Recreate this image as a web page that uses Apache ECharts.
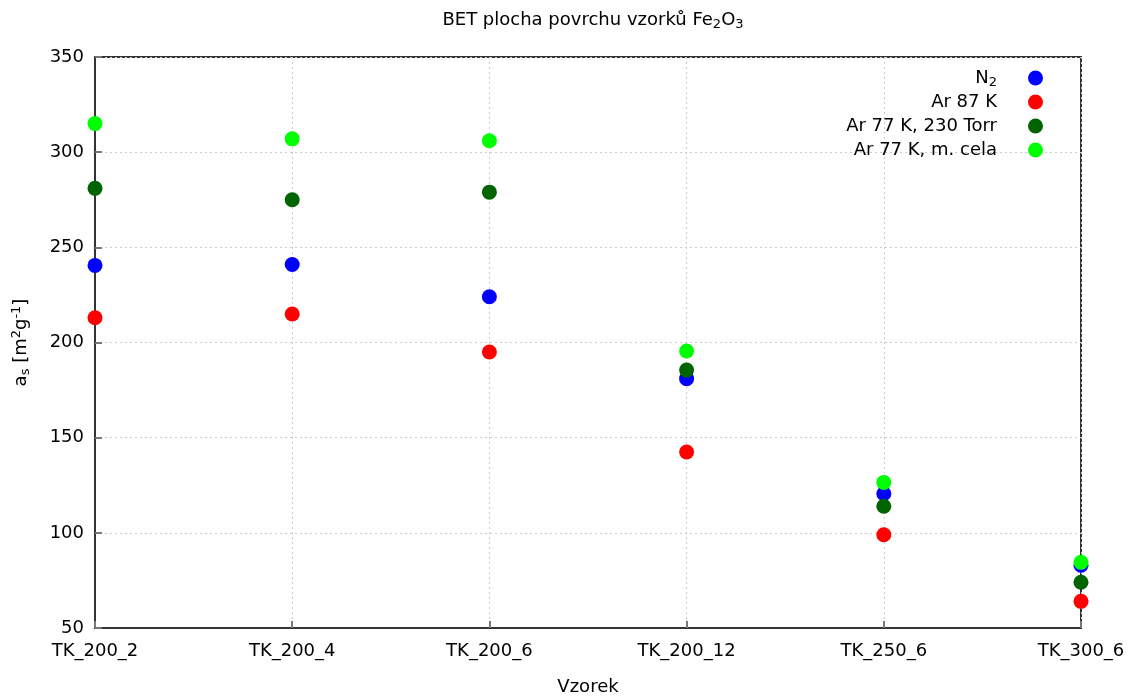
<!DOCTYPE html>
<html>
<head>
<meta charset="utf-8">
<script src="https://cdn.jsdelivr.net/npm/echarts@6/dist/echarts.min.js"></script>
<style>html,body{margin:0;padding:0;background:#fff;overflow:hidden;}#c{width:1128px;height:697px;}</style>
</head>
<body>
<div id="c"></div>
<script>
const categories = ['TK_200_2', 'TK_200_4', 'TK_200_6', 'TK_200_12', 'TK_250_6', 'TK_300_6'];
const n2 = [240.5, 241, 224, 181, 120.5, 83];
const ar87 = [213, 215, 195, 142.5, 99, 64];
const ar77Torr = [281, 275, 279, 185.5, 114, 74];
const ar77Cela = [315, 307, 306, 195.5, 126.5, 84.5];
const yTicks = [50, 100, 150, 200, 250, 300, 350];

const FONT = 'DejaVu Sans';
const FS = 18;
const seriesDefs = [
  {name: 'N2', data: n2, color: '#0000ff', label: '{t|N}{s|2}'},
  {name: 'Ar 87 K', data: ar87, color: '#ff0000', label: '{t|Ar 87 K}'},
  {name: 'Ar 77 K, 230 Torr', data: ar77Torr, color: '#006400', label: '{t|Ar 77 K, 230 Torr}'},
  {name: 'Ar 77 K, m. cela', data: ar77Cela, color: '#00ff00', label: '{t|Ar 77 K, m. cela}'}
];
const rich = {
  t: {fontFamily: FONT, fontSize: FS, fontWeight: 'normal', color: '#000', lineHeight: 22},
  s: {fontFamily: FONT, fontSize: 13, fontWeight: 'normal', color: '#000', lineHeight: 22, padding: [9, 0, 0, 0]},
  p: {fontFamily: FONT, fontSize: 13, fontWeight: 'normal', color: '#000', lineHeight: 22, padding: [0, 0, 9, 0]}
};
const legendTops = [67, 93, 117, 141];

const chart = echarts.init(document.getElementById('c'), null, {renderer: 'canvas'});
const legends = seriesDefs.map((d, i) => ({
  data: [d.name],
  right: 85,
  top: legendTops[i],
  padding: 0,
  orient: 'vertical',
  align: 'right',
  icon: 'circle',
  itemWidth: 67,
  itemHeight: 15,
  selectedMode: false,
  formatter: () => d.label,
  textStyle: {rich: rich, fontFamily: FONT, fontSize: FS, color: '#000'}
}));

chart.setOption({
  animation: false,
  backgroundColor: '#fff',
  title: {
    text: '{t|BET plocha povrchu vzorků Fe}{s|2}{t|O}{s|3}',
    left: 588, textAlign: 'center', top: 4,
    textStyle: {rich: rich, fontWeight: 'normal'}
  },
  legend: legends,
  grid: {left: 95, width: 986, top: 57, height: 571, outerBoundsMode: 'none', containLabel: false,
    show: true, borderColor: '#333', borderWidth: 2, backgroundColor: 'transparent'},
  xAxis: {
    type: 'category',
    data: categories,
    boundaryGap: false,
    name: 'Vzorek',
    nameLocation: 'middle',
    nameGap: 50,
    nameTextStyle: {fontFamily: FONT, fontSize: FS, color: '#000'},
    axisLine: {lineStyle: {color: '#333', width: 2}},
    axisTick: {inside: true, length: 7, alignWithLabel: true, lineStyle: {color: '#777', width: 2}},
    axisLabel: {interval: 0, margin: 14, fontFamily: FONT, fontSize: FS, color: '#000'},
    splitLine: {show: true, lineStyle: {color: '#cccccc', type: [2, 3], width: 1}}
  },
  yAxis: {
    type: 'value',
    min: 50, max: 350, interval: 50,
    name: '{t|a}{s|s}{t| [m}{p|2}{t|g}{p|-1}{t|]}',
    nameLocation: 'middle',
    nameGap: 63,
    nameTextStyle: {rich: rich},
    axisLine: {show: true, lineStyle: {color: '#333', width: 2}},
    axisTick: {show: true, inside: true, length: 7, lineStyle: {color: '#777', width: 2}},
    axisLabel: {margin: 11, fontFamily: FONT, fontSize: FS, color: '#000',
      formatter: v => yTicks.includes(v) ? String(v) : ''},
    splitLine: {show: true, lineStyle: {color: '#cccccc', type: [2, 3], width: 1}}
  },
  series: seriesDefs.map(d => ({
    name: d.name,
    type: 'scatter',
    data: d.data,
    symbol: 'circle',
    symbolSize: 15,
    itemStyle: {color: d.color, opacity: 1},
    emphasis: {disabled: true}
  }))
});
</script>
</body>
</html>
